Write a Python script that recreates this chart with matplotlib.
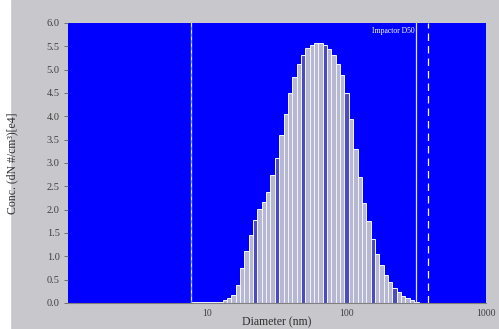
import matplotlib
matplotlib.use("Agg")
import matplotlib.pyplot as plt
import numpy as np

# SMPS channels, 32 per decade (channel index k -> diameter 10**(k/32) nm)
channels = np.arange(29, 81)
conc = [0.02, 0.02, 0.02, 0.02, 0.02, 0.03, 0.03, 0.06, 0.10, 0.17,
        0.38, 0.75, 1.12, 1.45, 1.78, 2.02, 2.17, 2.38, 2.75, 3.10,
        3.60, 4.05, 4.50, 4.85, 5.12, 5.32, 5.46, 5.53, 5.57, 5.57,
        5.53, 5.45, 5.32, 5.12, 4.88, 4.50, 3.95, 3.30, 2.70, 2.15,
        1.75, 1.38, 1.05, 0.82, 0.60, 0.46, 0.33, 0.24, 0.15, 0.10,
        0.06, 0.03]
dark_channels = [43, 48, 54, 59, 64, 70, 75]

lower_limit = 7.67      # nm
impactor_d50 = 313.0    # nm
upper_dash = 383.0      # nm

left_edges = 10 ** ((channels - 0.5) / 32)
right_edges = 10 ** ((channels + 0.5) / 32)
widths = right_edges - left_edges
colors = ['#4c4cc0' if k in dark_channels else '#b6b8d2' for k in channels]

fig = plt.figure(figsize=(4.99, 3.29), dpi=100, facecolor='#c8c8cc')
fig.patches.append(plt.Rectangle((0, 0), 10 / 499, 1, transform=fig.transFigure,
                                 color='white', zorder=-1))
ax = fig.add_axes([68 / 499, 1 - 303 / 329, 418 / 499, 280 / 329])
ax.set_facecolor('#0000ff')

ax.bar(left_edges, conc, width=widths, align='edge', color=colors,
       edgecolor='#f4f4ff', linewidth=0.7)

ax.axvline(lower_limit, color='#e0e8ff', lw=0.9)
ax.axvline(lower_limit, color='#4aa0ff', lw=0.6, ls=(0, (4, 4)))
ax.axvline(impactor_d50, color='#e0e8ff', lw=0.9)
ax.axvline(upper_dash, color='white', lw=0.9, ls=(0, (6, 4)))
ax.text(impactor_d50 * 0.985, 5.83, 'Impactor D50', color='white', fontsize=5.5,
        family='Liberation Serif', ha='right', va='center')

ax.set_xscale('log')
ax.set_xlim(1, 1000)
ax.set_ylim(0, 6.0)
ax.set_yticks(np.arange(0, 6.01, 0.5))
ax.set_yticklabels(['%.1f' % v for v in np.arange(0, 6.01, 0.5)])
ax.set_xticks([10, 100, 1000])
ax.set_xticklabels(['10', '100', '1000'])
ax.xaxis.set_minor_locator(matplotlib.ticker.NullLocator())
ax.tick_params(axis='y', length=3, width=0.6, color='#606060', pad=3,
               labelsize=7.5, labelcolor='#404040')
ax.tick_params(axis='x', length=0, pad=4, labelsize=7, labelcolor='#404040')
for lab in ax.get_xticklabels() + ax.get_yticklabels():
    lab.set_family('Liberation Serif')
for s in ax.spines.values():
    s.set_visible(False)
ax.spines['bottom'].set_visible(True)
ax.spines['bottom'].set_color('#808080')

ax.set_xlabel('Diameter (nm)', fontsize=8.5, family='Liberation Serif',
              color='#303030', labelpad=-1)
ax.set_ylabel('Conc. (dN #/cm³)[e4]', fontsize=8.5, family='Liberation Serif',
              color='#303030', labelpad=20)

fig.savefig('out.png', dpi=100, facecolor=fig.get_facecolor())
